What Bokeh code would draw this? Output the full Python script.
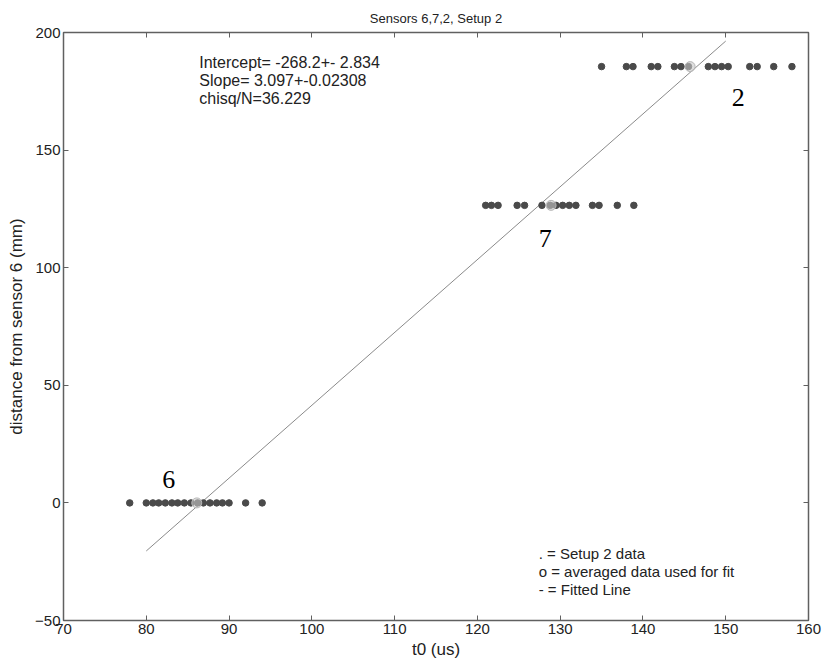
from bokeh.plotting import figure
from bokeh.models import Range1d, LinearAxis, FixedTicker, CustomJSTickFormatter
from bokeh.core.properties import value
from bokeh.embed import file_html
from bokeh.resources import INLINE

# ---- data ----
s6_t = [78, 80, 80.8, 81.5, 82.3, 83.1, 83.8, 84.6, 85.4, 86.2, 86.9, 87.7, 88.5, 89.2, 90, 92, 94]
s6_d = 0.0
s7_t = [121, 121.7, 122.5, 124.8, 125.7, 127.8, 128.8, 129.5, 130.3, 131.1, 131.9, 133.9, 134.7, 136.9, 138.9]
s7_d = 126.5
s2_t = [135, 138, 138.8, 141, 141.8, 143.8, 144.6, 145.5, 147.9, 148.7, 149.5, 150.3, 152.9, 153.8, 155.8, 158]
s2_d = 185.5
avg_t = [86.1, 128.9, 145.7]
avg_d = [0.0, 126.5, 185.5]
intercept = -268.2
slope = 3.097
fit_t = [80, 150]
sensor_labels = ["6", "7", "2"]
stats_lines = ["Intercept= -268.2+- 2.834", "Slope=  3.097+-0.02308", "chisq/N=36.229"]
legend_lines = [". = Setup 2 data", "o = averaged data used for fit", "- = Fitted Line"]
x_ticks = list(range(70, 161, 10))
y_ticks = list(range(-50, 201, 50))

FONT = "Liberation Sans"
AX = "#606060"

p = figure(width=822, height=670, output_backend="svg", toolbar_location=None,
           x_range=Range1d(70, 160), y_range=Range1d(-50, 200),
           min_border_left=63, min_border_right=14, min_border_top=32, min_border_bottom=50,
           background_fill_color="white", border_fill_color="white")
p.outline_line_color = AX
p.outline_line_width = 1.5
p.grid.visible = False

p.title.text = "Sensors 6,7,2, Setup 2"
p.title.align = "center"
p.title.text_font = FONT
p.title.text_font_size = "13px"
p.title.text_font_style = "normal"
p.title.text_color = "#222"
p.title.standoff = 14

for ax in (p.xaxis[0], p.yaxis[0]):
    ax.major_tick_in = 5
    ax.major_tick_out = 0
    ax.minor_tick_line_color = None
    ax.axis_line_color = AX
    ax.major_tick_line_color = AX
    ax.major_label_text_font = FONT
    ax.major_label_text_font_size = "15px"
    ax.major_label_text_color = "#222"
    ax.axis_label_text_font = FONT
    ax.axis_label_text_font_size = "17px"
    ax.axis_label_text_font_style = "normal"
    ax.axis_label_text_color = "#222"
    ax.major_label_standoff = 3

p.xaxis[0].axis_label_standoff = 3
p.yaxis[0].axis_label_standoff = 6
p.xaxis[0].ticker = FixedTicker(ticks=x_ticks)
p.yaxis[0].ticker = FixedTicker(ticks=y_ticks)
p.xaxis[0].axis_label = "t0 (us)"
p.yaxis[0].axis_label = "distance from sensor 6 (mm)"

blank = CustomJSTickFormatter(code="return ''")
top = LinearAxis(ticker=FixedTicker(ticks=x_ticks), formatter=blank, major_tick_in=5, major_tick_out=0,
                 minor_tick_line_color=None, axis_line_color=AX, major_tick_line_color=AX,
                 major_label_standoff=0)
right = LinearAxis(ticker=FixedTicker(ticks=y_ticks), formatter=blank, major_tick_in=5, major_tick_out=0,
                   minor_tick_line_color=None, axis_line_color=AX, major_tick_line_color=AX,
                   major_label_standoff=0)
p.add_layout(top, "above")
p.add_layout(right, "right")

# fitted line
fit_d = [intercept + slope * t for t in fit_t]
p.line(fit_t, fit_d, line_color="#8a8a8a", line_width=1)

# raw data
dot = dict(size=6.5, fill_color="#4a4a4a", line_color="#4a4a4a")
p.scatter(s6_t, [s6_d] * len(s6_t), **dot)
p.scatter(s7_t, [s7_d] * len(s7_t), **dot)
p.scatter(s2_t, [s2_d] * len(s2_t), **dot)

# averaged points
p.scatter(avg_t, avg_d, size=10, fill_color="#c8c8c8", fill_alpha=0.6, line_color="#b8b8b8")

# sensor labels
p.text(x=[82.7, 128.2, 151.5], y=[10, 112.5, 172.5], text=sensor_labels,
       text_font=value("Liberation Serif"), text_font_size="26px", text_color="black",
       text_align="center", text_baseline="middle")

# fit statistics
p.text(x=[86.4] * 3, y=[187.2, 179.5, 171.8], text=stats_lines,
       text_font=value(FONT), text_font_size="16px", text_color="#222",
       text_align="left", text_baseline="middle")

# legend text
p.text(x=[127.4] * 3, y=[-21.5, -29.2, -36.8], text=legend_lines,
       text_font=value(FONT), text_font_size="15px", text_color="#222",
       text_align="left", text_baseline="middle")

open("out.html", "w").write(file_html(p, INLINE))
